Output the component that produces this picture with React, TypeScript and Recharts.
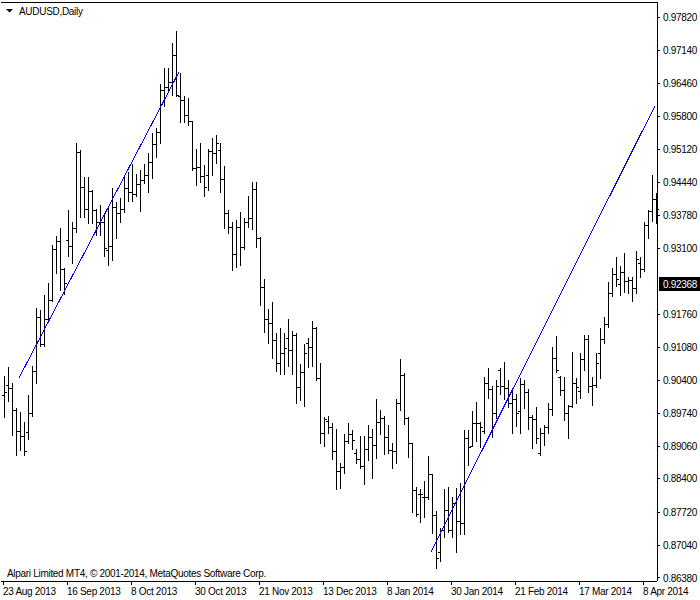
import React from 'react';
import { ComposedChart, Bar, XAxis, YAxis, ReferenceLine } from 'recharts';

const opens = [
  0.9011,0.9031,0.9025,0.8980,0.8937,0.8927,0.8935,0.8974,0.9060,0.9170,
  0.9115,0.9166,0.9205,0.9309,0.9325,0.9268,0.9327,0.9315,0.9352,0.9507,
  0.9435,0.9390,0.9427,0.9388,0.9364,0.9364,0.9307,0.9315,0.9394,0.9382,
  0.9390,0.9433,0.9425,0.9421,0.9441,0.9450,0.9460,0.9486,0.9523,0.9547,
  0.9633,0.9639,0.9649,0.9705,0.9621,0.9613,0.9582,0.9570,0.9474,0.9476,
  0.9458,0.9460,0.9509,0.9505,0.9511,0.9452,0.9382,0.9354,0.9299,0.9354,
  0.9313,0.9364,0.9372,0.9431,0.9331,0.9231,0.9166,0.9158,0.9123,0.9076,
  0.9097,0.9127,0.9103,0.9133,0.9027,0.9058,0.9117,0.9109,0.9148,0.9046,
  0.8933,0.8958,0.8946,0.8897,0.8856,0.8864,0.8917,0.8931,0.8893,0.8880,
  0.8866,0.8901,0.8925,0.8909,0.8956,0.8964,0.8925,0.8899,0.8897,0.8995,
  0.9052,0.8964,0.8913,0.8817,0.8809,0.8803,0.8803,0.8850,0.8766,0.8691,
  0.8736,0.8776,0.8736,0.8791,0.8754,0.8750,0.8923,0.8907,0.8954,0.8954,
  0.8937,0.9035,0.9023,0.8974,0.9062,0.9029,0.9025,0.8995,0.9003,0.8978,
  0.9033,0.9017,0.8966,0.8962,0.8893,0.8933,0.8946,0.8982,0.9086,0.9048,
  0.9021,0.8974,0.8988,0.9035,0.9019,0.9084,0.9125,0.9029,0.9031,0.9097,
  0.9125,0.9156,0.9219,0.9258,0.9237,0.9262,0.9243,0.9246,0.9229,0.9280,
  0.9268,0.9358,0.9386,0.9411,
];

const highs = [
  0.9050,0.9068,0.9035,0.8984,0.8976,0.8956,0.9011,0.9070,0.9188,0.9184,
  0.9215,0.9239,0.9317,0.9335,0.9352,0.9270,0.9388,0.9364,0.9525,0.9511,
  0.9456,0.9456,0.9429,0.9390,0.9399,0.9378,0.9394,0.9433,0.9405,0.9413,
  0.9456,0.9466,0.9482,0.9462,0.9470,0.9482,0.9505,0.9545,0.9556,0.9645,
  0.9678,0.9678,0.9729,0.9753,0.9668,0.9621,0.9617,0.9570,0.9513,0.9525,
  0.9480,0.9513,0.9535,0.9541,0.9525,0.9478,0.9388,0.9364,0.9368,0.9384,
  0.9372,0.9417,0.9445,0.9445,0.9333,0.9248,0.9186,0.9201,0.9137,0.9148,
  0.9137,0.9166,0.9141,0.9137,0.9074,0.9115,0.9127,0.9162,0.9150,0.9076,
  0.8966,0.8968,0.8954,0.8942,0.8872,0.8931,0.8954,0.8940,0.8901,0.8927,
  0.8927,0.8950,0.8942,0.9003,0.8980,0.8968,0.8950,0.8913,0.9003,0.9084,
  0.9056,0.8966,0.8913,0.8823,0.8819,0.8835,0.8886,0.8850,0.8774,0.8740,
  0.8819,0.8823,0.8803,0.8821,0.8831,0.8940,0.8940,0.8978,0.8997,0.8956,
  0.9048,0.9066,0.9029,0.9042,0.9066,0.9078,0.9042,0.9019,0.9013,0.9046,
  0.9042,0.9023,0.8970,0.8986,0.8944,0.8950,0.8995,0.9109,0.9131,0.9050,
  0.9048,0.8990,0.9099,0.9046,0.9097,0.9133,0.9133,0.9048,0.9097,0.9148,
  0.9170,0.9241,0.9270,0.9292,0.9274,0.9301,0.9252,0.9252,0.9305,0.9292,
  0.9364,0.9388,0.9460,0.9423,
];

const lows = [
  0.8966,0.8999,0.8929,0.8889,0.8899,0.8889,0.8921,0.8968,0.9035,0.9111,
  0.9111,0.9164,0.9203,0.9260,0.9225,0.9217,0.9295,0.9280,0.9343,0.9374,
  0.9374,0.9362,0.9362,0.9337,0.9337,0.9295,0.9276,0.9286,0.9331,0.9364,
  0.9384,0.9407,0.9407,0.9417,0.9386,0.9443,0.9425,0.9454,0.9496,0.9525,
  0.9600,0.9629,0.9623,0.9621,0.9568,0.9568,0.9562,0.9470,0.9439,0.9445,
  0.9417,0.9429,0.9460,0.9484,0.9425,0.9352,0.9341,0.9266,0.9272,0.9276,
  0.9309,0.9354,0.9350,0.9313,0.9195,0.9139,0.9117,0.9086,0.9060,0.9054,
  0.9054,0.9070,0.9054,0.8995,0.9001,0.8988,0.9068,0.9070,0.9042,0.8913,
  0.8907,0.8933,0.8880,0.8819,0.8821,0.8852,0.8913,0.8901,0.8872,0.8862,
  0.8829,0.8878,0.8842,0.8882,0.8931,0.8891,0.8893,0.8862,0.8872,0.8980,
  0.8952,0.8884,0.8772,0.8764,0.8752,0.8762,0.8799,0.8729,0.8658,0.8672,
  0.8721,0.8731,0.8721,0.8691,0.8727,0.8727,0.8868,0.8907,0.8917,0.8905,
  0.8933,0.9005,0.8925,0.8964,0.9013,0.9003,0.8986,0.8933,0.8948,0.8933,
  0.8984,0.8942,0.8903,0.8913,0.8889,0.8909,0.8933,0.8970,0.9058,0.9011,
  0.8960,0.8923,0.8986,0.8995,0.9005,0.9062,0.9017,0.8990,0.9027,0.9046,
  0.9117,0.9150,0.9213,0.9233,0.9215,0.9221,0.9219,0.9203,0.9219,0.9252,
  0.9264,0.9331,0.9366,0.9362,
];

const closes = [
  0.9017,0.9025,0.8980,0.8937,0.8927,0.8897,0.8974,0.9060,0.9170,0.9115,
  0.9166,0.9205,0.9309,0.9325,0.9268,0.9239,0.9315,0.9352,0.9507,0.9435,
  0.9390,0.9427,0.9388,0.9364,0.9364,0.9311,0.9315,0.9394,0.9382,0.9390,
  0.9433,0.9425,0.9421,0.9441,0.9450,0.9460,0.9486,0.9523,0.9547,0.9633,
  0.9639,0.9649,0.9705,0.9623,0.9613,0.9582,0.9570,0.9474,0.9476,0.9458,
  0.9435,0.9509,0.9505,0.9525,0.9452,0.9382,0.9354,0.9299,0.9354,0.9313,
  0.9364,0.9372,0.9431,0.9331,0.9231,0.9166,0.9158,0.9123,0.9076,0.9097,
  0.9107,0.9103,0.9133,0.9027,0.9058,0.9097,0.9109,0.9148,0.9046,0.8933,
  0.8962,0.8946,0.8897,0.8856,0.8864,0.8917,0.8931,0.8919,0.8880,0.8866,
  0.8901,0.8925,0.8909,0.8956,0.8964,0.8925,0.8899,0.8897,0.8995,0.9052,
  0.8964,0.8913,0.8817,0.8768,0.8809,0.8803,0.8850,0.8766,0.8678,0.8736,
  0.8776,0.8736,0.8791,0.8754,0.8750,0.8923,0.8905,0.8954,0.8954,0.8946,
  0.9035,0.9023,0.8974,0.9029,0.9029,0.9025,0.8995,0.9003,0.8974,0.9033,
  0.9017,0.8966,0.8962,0.8923,0.8933,0.8946,0.8982,0.9086,0.9062,0.9021,
  0.8974,0.8988,0.9035,0.9027,0.9084,0.9125,0.9029,0.9031,0.9076,0.9125,
  0.9156,0.9219,0.9258,0.9248,0.9262,0.9243,0.9246,0.9229,0.9288,0.9268,
  0.9358,0.9386,0.9411,0.9390,
];

const dateTickIndex = [0, 16, 32, 48, 64, 80, 96, 112, 128, 144, 160];
const dateLabels = [
  '23 Aug 2013', '16 Sep 2013', '8 Oct 2013', '30 Oct 2013', '21 Nov 2013',
  '13 Dec 2013', '8 Jan 2014', '30 Jan 2014', '21 Feb 2014', '17 Mar 2014', '8 Apr 2014',
];
const priceTicks = [
  0.9782, 0.9714, 0.9646, 0.958, 0.9512, 0.9444, 0.9378, 0.931,
  0.9176, 0.9108, 0.904, 0.8974, 0.8906, 0.884, 0.8772, 0.8704, 0.8638,
];
const currentPrice = 0.92368;
const priceDomain: [number, number] = [0.863188, 0.981259];
const trendUp1 = [{ x: 4, y: 0.9046 }, { x: 44, y: 0.967 }];
const trendUp2 = [{ x: 107, y: 0.8691 }, { x: 163, y: 0.9601 }];
const titleText = 'AUDUSD,Daily';
const copyrightText = 'Alpari Limited MT4, \u00A9 2001-2014, MetaQuotes Software Corp.';

const data = opens.map((o, i) => ({
  idx: i,
  open: o,
  high: highs[i],
  low: lows[i],
  close: closes[i],
  range: [lows[i], highs[i]],
}));

const FONT = '"Liberation Sans", Arial, sans-serif';
const LS = -0.3;

function OhlcBar(props: any) {
  const { x, y, width, height, payload } = props;
  if (x == null || y == null || !payload) return null;
  const top = Math.min(y, y + height);
  const bot = Math.max(y, y + height);
  const span = payload.high - payload.low;
  const toPx = (v: number) => (span > 0 ? top + ((payload.high - v) / span) * (bot - top) : top);
  const c = Math.round(x + width / 2);
  const t = Math.round(top);
  const b = Math.round(bot);
  const ro = Math.min(b, Math.max(t, Math.round(toPx(payload.open))));
  const rc = Math.min(b, Math.max(t, Math.round(toPx(payload.close))));
  const d = `M${c + 0.5},${t} V${b + 1} M${c - 2},${ro + 0.5} H${c} M${c + 1},${rc + 0.5} H${c + 3}`;
  return <path d={d} stroke="#000" strokeWidth={1} fill="none" shapeRendering="crispEdges" />;
}

function DateTick(props: any) {
  const { x, y, payload } = props;
  const k = dateTickIndex.indexOf(payload.value);
  if (k < 0) return null;
  return (
    <text x={x} y={y} dy="0.71em" textAnchor="start" fontSize={10} fontFamily={FONT} fill="#000" letterSpacing={LS}>
      {dateLabels[k]}
    </text>
  );
}

function PriceTick(props: any) {
  const { x, y, payload } = props;
  return (
    <text x={x} y={y} dy="0.355em" textAnchor="start" fontSize={10} fontFamily={FONT} fill="#000" letterSpacing={LS}>
      {Number(payload.value).toFixed(5)}
    </text>
  );
}

function PriceTag(props: any) {
  const vb = props.viewBox || {};
  const right = (vb.x || 0) + (vb.width || 0);
  const cy = Math.round(vb.y || 0);
  return (
    <g>
      <rect x={right + 2} y={cy - 7} width={45} height={14} fill="#000" />
      <text x={right + 6} y={cy} dy="0.355em" fontSize={10} fontFamily={FONT} fill="#fff" letterSpacing={LS}>
        {currentPrice.toFixed(5)}
      </text>
    </g>
  );
}

export default function App() {
  return (
    <div style={{ position: 'absolute', left: 0, top: 0, width: 700, height: 600, background: '#fff', fontFamily: FONT }}>
      <ComposedChart width={700} height={600} data={data} margin={{ top: 2, right: 0, bottom: 0, left: 1 }}>
        <XAxis
          dataKey="idx"
          type="category"
          ticks={dateTickIndex}
          interval={0}
          height={19}
          tickSize={4}
          tickMargin={3}
          axisLine={{ stroke: '#000', shapeRendering: 'crispEdges' }}
          tickLine={{ stroke: '#000', shapeRendering: 'crispEdges' }}
          tick={<DateTick />}
        />
        <YAxis
          orientation="right"
          type="number"
          domain={priceDomain}
          allowDataOverflow
          ticks={priceTicks}
          interval={0}
          width={43}
          tickSize={3}
          tickMargin={3}
          axisLine={{ stroke: '#000', shapeRendering: 'crispEdges' }}
          tickLine={{ stroke: '#000', shapeRendering: 'crispEdges' }}
          tick={<PriceTick />}
        />
        <YAxis
          yAxisId="frame"
          orientation="left"
          type="number"
          domain={[0, 1]}
          width={0}
          tick={false}
          tickLine={false}
          axisLine={{ stroke: '#000', shapeRendering: 'crispEdges' }}
        />
        <ReferenceLine y={priceDomain[1]} stroke="#000" shapeRendering="crispEdges" ifOverflow="visible" />
        <Bar dataKey="range" barSize={1} shape={<OhlcBar />} isAnimationActive={false} />
        <ReferenceLine segment={trendUp1} stroke="#0000ff" strokeWidth={1} shapeRendering="crispEdges" />
        <ReferenceLine segment={trendUp2} stroke="#0000ff" strokeWidth={1} shapeRendering="crispEdges" />
        <ReferenceLine y={currentPrice} stroke="none" label={<PriceTag />} />
      </ComposedChart>
      <svg width={700} height={600} style={{ position: 'absolute', left: 0, top: 0, pointerEvents: 'none' }}>
        <polygon points="6,9 13,9 9.5,12.5" fill="#000" />
        <text x={19} y={14.5} fontSize={10} fontFamily={FONT} fill="#000" letterSpacing={LS}>{titleText}</text>
        <text x={7} y={577} fontSize={10} fontFamily={FONT} fill="#000" letterSpacing={LS}>{copyrightText}</text>
      </svg>
    </div>
  );
}
